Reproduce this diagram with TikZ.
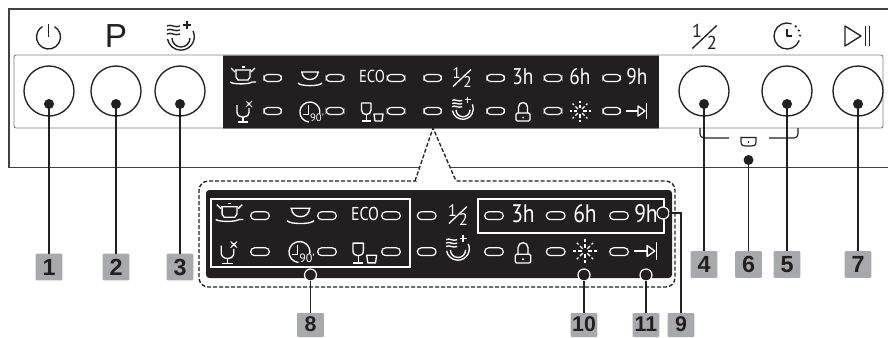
\documentclass[tikz,border=0pt]{standalone}
\usepackage{fontspec}
\usepackage{graphicx}
\setmainfont{PT Sans}
\newfontfamily\badgefont{Liberation Sans}
\newfontfamily\pfont{Liberation Sans}
\definecolor{ink}{HTML}{231F20}
\definecolor{framegray}{HTML}{414042}
\definecolor{panelgray}{HTML}{808285}
\definecolor{badgegray}{HTML}{A7A9AC}
\tikzset{
  x=0.75pt,y=-0.75pt,
  every node/.style={inner sep=0pt,outer sep=0pt},
  button/.style={circle,draw=ink,line width=1pt,minimum size=37.5pt},
  dotnode/.style={circle,fill=ink,minimum size=7.5pt},
  ringnode/.style={circle,draw=white,fill=ink,line width=.9pt,minimum size=9pt},
  badge/.style={rectangle,fill=badgegray,rounded corners=.8pt,minimum width=20pt,minimum height=20pt,text=ink,font=\badgefont\fontsize{17.5}{17.5}\selectfont\bfseries},
  badgecut/.style={badge,minimum height=18pt,font=\badgefont\fontsize{16}{16}\selectfont\bfseries},
  led/.style={rectangle,draw=white,fill=ink,line width=.9pt,rounded corners=2.6pt,minimum width=13pt,minimum height=5.2pt},
  ledbig/.style={led,minimum width=14pt,minimum height=5.8pt,rounded corners=2.9pt},
  lead/.style={draw=ink,line width=1.15pt},
  icon/.style={line width=1pt,line join=round},
  pics/power/.style={code={
    \draw[icon] (0,0) ++(-60:12) arc[start angle=-60,end angle=240,radius=12];
    \draw[icon] (0,-13) -- (0,0);}},
  pics/rinse/.style={code={
    \foreach \yy in {-11,-7,-3}{\draw[icon] (-14,\yy) .. controls (-10,\yy-2.5) and (-6,\yy+2.5) .. (-1,\yy);}
    \draw[icon] (-13.5,2) arc[start angle=170,end angle=90,radius=13.5] arc[start angle=90,end angle=-25,radius=13.5];
    \draw[icon] (-9,1) arc[start angle=180,end angle=0,radius=9];
    \draw[icon] (6,-16) -- (6,-8) (2,-12) -- (10,-12);}},
  pics/pot/.style={code={
    \draw[icon] (-7,-5) -- (-7,2) -- (-5,5) -- (5,5) -- (7,2) -- (7,-5);
    \draw[icon] (-8,-5) -- (8,-5) (-12,-7) -- (-8,-3) (12,-7) -- (8,-3);
    \draw[icon,line width=1.4pt] (-1.5,-8) -- (1.5,-8);
    \draw[icon] (-13,7) .. controls (-10,9.5) and (6,9.5) .. (9,7) -- (13,7);}},
  pics/bowl/.style={code={
    \draw[icon] (-9,-6) -- (9,-6) (-8,-6) .. controls (-8,4) and (8,4) .. (8,-6);
    \draw[icon] (-12,5) .. controls (-10,8.5) and (10,8.5) .. (12,5);}},
  pics/sparkglass/.style={code={
    \draw[icon] (-6,-7) -- (-6,0) .. controls (-6,7) and (6,7) .. (6,0) -- (6,-4);
    \draw[icon] (0,5) -- (0,10);
    \draw[icon,line width=1.3pt] (-5,10) -- (5,10);
    \draw[icon,line width=.7pt] (3,-11) -- (9,-5) (9,-11) -- (3,-5) (4,-9) -- (8,-9) (4,-7) -- (8,-7);}},
  pics/clockninety/.style={code={
    \draw[icon] (1,10) arc[start angle=95,end angle=370,radius=10];
    \draw[line width=.75pt,line join=miter] (0,-7) -- (0,2) -- (-5,2);
    \node (t) at (9,6) {\color{white}\fontsize{#1}{#1}\selectfont 90'};}},
  pics/glasses/.style={code={
    \draw[icon] (-10.5,-9) -- (-1,-9) -- (-1,-2) .. controls (-1,4) and (-10.5,4) .. (-10.5,-2) -- cycle;
    \draw[icon] (-5.7,3) -- (-5.7,9);
    \draw[icon,line width=1.3pt] (-10.5,9) -- (-1,9);
    \draw[icon] (2,2) -- (11,2) -- (10,9) -- (3,9) -- cycle;}},
  pics/lock/.style={code={
    \draw[icon,rounded corners=1pt] (-7,2) rectangle (7,10);
    \draw[icon] (-4.5,2) -- (-4.5,-4) arc[start angle=180,end angle=360,radius=4.5] -- (4.5,2);
    \fill (0,6.5) circle[radius=1];}},
  pics/sparkle/.style={code={
    \foreach \aa in {0,45,...,315}{
      \draw[icon] (\aa:3) -- (\aa:6.5);
      \draw[icon] (\aa:8.5) -- (\aa:10.5);}}},
  pics/arrowend/.style={code={
    \draw[icon] (-11,0) -- (1,0);
    \draw[icon] (1,-5) -- (1,5) -- (8,0) -- cycle;
    \draw[icon,line width=1.2pt] (9.5,-8) -- (9.5,8);}},
  pics/half/.style={code={
    \node (o) at (-5.5,-4.5) {\fontsize{#1}{#1}\selectfont 1};
    \node (w) at (5.5,4.5) {\fontsize{#1}{#1}\selectfont 2};
    \draw[icon] (-9,8.5) -- (9,-8.5);}},
  pics/timer/.style={code={
    \draw[icon] (20:13) arc[start angle=20,end angle=290,radius=13];
    \foreach \aa in {-48,-25,-2}{\fill (\aa:13) circle[radius=1.2];}
    \draw[icon] (0,-7) -- (0,0) -- (5,0);}},
  pics/playpause/.style={code={
    \draw[icon] (-13,-10) -- (-13,10) -- (3,0) -- cycle;
    \draw[icon] (7.5,-10) -- (7.5,10) (11.5,-10) -- (11.5,10);}},
}
\newcommand{\hourtxt}[2]{{\color{white}\fontsize{#1}{#1}\selectfont\scalebox{.85}[1]{#2}}}
\begin{document}
\begin{tikzpicture}
\path[use as bounding box,fill=white] (0,0) rectangle (888,337);
% outer frame
\draw[framegray,line width=1.2pt] (888,9) -- (9,9) -- (9,167.5) -- (888,167.5);
% control strip
\draw[panelgray,line width=.7pt,rounded corners=1.5pt] (14,55) rectangle (883,128);
\fill[ink] (223,55) rectangle (659,128);
\draw[panelgray,line width=.7pt] (223,55) -- (659,55) (223,128) -- (659,128);
% header icons
\pic[ink] at (48.5,37) {power};
\node[text=ink,font=\pfont\fontsize{25}{25}\selectfont] (plabel) at (116,36.5) {P};
\pic[ink] at (181,37) {rinse};
\pic[ink,scale=1.35] at (704.5,37) {half=14pt};
\pic[ink] at (787,36) {timer};
\pic[ink] at (858,36) {playpause};
% buttons
\foreach \nm/\xx in {1/49,2/116,3/180,4/704,5/787,7/858}{
  \node[button] (btn\nm) at (\xx,91) {};
  \node[dotnode] (dot\nm) at (\xx,104) {};
}
% bracket and lock mark
\draw[ink,line width=.85pt,rounded corners=3pt] (700,128) -- (700,138) -- (729,138);
\draw[ink,line width=.85pt,rounded corners=3pt] (798,128) -- (798,138) -- (769,138);
\draw[ink,line width=.85pt] (741,137.5) -- (756,137.5) -- (756,142) .. controls (756,146) and (753,146) .. (751,146) -- (746,146) .. controls (744,146) and (741,146) .. (741,142) -- cycle;
\draw[ink,line width=.85pt] (748.5,140.5) -- (748.5,143);
\node[dotnode] (dot6) at (748.5,160) {};
% top panel leds
\foreach \xx [count=\i] in {272.7,335,396,432.7,495.7,553,611.7}{
  \node[led] (ta\i) at (\xx,78) {};
  \node[led] (tb\i) at (\xx,111) {};
}
% top panel icons
\pic[white] at (243,75) {pot};
\pic[white] at (310,78) {bowl};
\node (teco) at (372,76.5) {\hourtxt{13}{ECO}};
\pic[white] at (462,78) {half=11.5pt};
\node (t3h) at (523,77) {\hourtxt{17}{3h}};
\node (t6h) at (580,77) {\hourtxt{17}{6h}};
\node (t9h) at (637,77) {\hourtxt{17}{9h}};
\pic[white] at (243,112) {sparkglass};
\pic[white] at (308,112) {clockninety=8};
\pic[white] at (372,112) {glasses};
\pic[white,scale=.78] at (463,109) {rinse};
\pic[white] at (523,111) {lock};
\pic[white] at (580,111) {sparkle};
\pic[white] at (637,111) {arrowend};
% leader lines and badges
\foreach \nm/\xx in {1/49,2/116,3/180}{
  \node[badge] (bd\nm) at (\xx,267) {\nm};
  \draw[lead] (dot\nm.center) -- (bd\nm.north);
}
\foreach \nm/\xx in {4/704,6/748.5,5/787,7/858}{
  \node[badge] (bd\nm) at (\xx,264.5) {\nm};
  \draw[lead] (dot\nm.center) -- (bd\nm.north);
}
% zoomed panel
\path[fill=white,draw=ink,line width=1pt,dash pattern=on 3pt off 1.5pt,rounded corners=7pt]
  (417,181) -- (199,181) -- (199,287) -- (675,287) -- (675,181) -- (456,181);
\fill[white] (415,181) -- (433,128) -- (456,181) -- cycle;
\draw[ink,line width=1pt,dash pattern=on 3pt off 1.5pt] (415,181) -- (433,128) -- (456,181);
\fill[ink,rounded corners=2.5pt] (206,190) rectangle (672,278);
\draw[white,line width=.9pt] (211,199) rectangle (410,267);
\draw[white,line width=.9pt] (478,199) rectangle (664,233);
\foreach \xx [count=\i] in {260,327,391,426.7,494,555.7,619}{
  \node[ledbig] (da\i) at (\xx,215.7) {};
  \node[ledbig] (db\i) at (\xx,251.7) {};
}
\pic[white,scale=1.06] at (229.5,212) {pot};
\pic[white,scale=1.12] at (300.5,215) {bowl};
\node (deco) at (365,213.5) {\hourtxt{14}{ECO}};
\pic[white] at (458,215) {half=12.5pt};
\node (d3h) at (523,214) {\hourtxt{19}{3h}};
\node (d6h) at (585,214) {\hourtxt{19}{6h}};
\node (d9h) at (646,214) {\hourtxt{19}{9h}};
\pic[white,scale=1.05] at (227.5,253) {sparkglass};
\pic[white,scale=1.05] at (297.5,252) {clockninety=9};
\pic[white,scale=1.1] at (364.5,253) {glasses};
\pic[white,scale=.85] at (458,249) {rinse};
\pic[white,scale=1.1] at (523,252) {lock};
\pic[white,scale=1.1] at (585,251) {sparkle};
\pic[white,scale=1.1] at (646,251) {arrowend};
% callouts
\node[badgecut] (bd8) at (310.5,325) {\raisebox{.7pt}{8}};
\node[badgecut] (bd10) at (584,325) {\raisebox{.7pt}{10}};
\node[badgecut] (bd11) at (646,325) {\raisebox{.7pt}{11}};
\node[badgecut] (bd9) at (681,325) {\raisebox{.7pt}{9}};
\node[ringnode] (ring8) at (310.5,275) {};
\node[ringnode] (ring10) at (584,275) {};
\node[ringnode] (ring11) at (646,275) {};
\node[ringnode] (ring9) at (663,213) {};
\draw[lead] (ring8) -- (bd8.north);
\draw[lead] (ring10) -- (bd10.north);
\draw[lead] (ring11) -- (bd11.north);
\draw[lead] (ring9) -- (ring9 -| bd9) -- (bd9.north);
\end{tikzpicture}
\end{document}
